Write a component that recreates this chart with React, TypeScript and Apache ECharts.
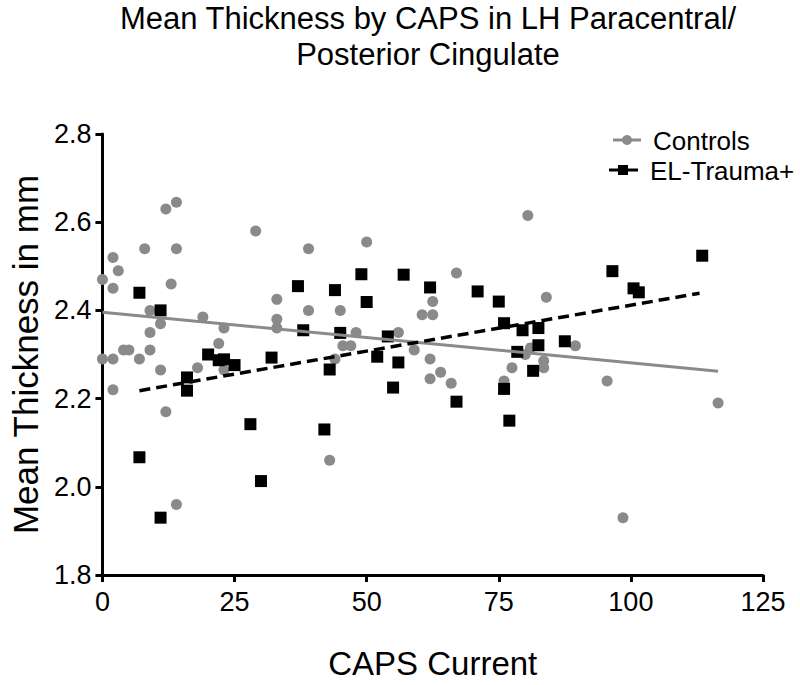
import React, { useEffect, useRef } from "react";
import * as echarts from "echarts";

const chartTitleLines = ["Mean Thickness by CAPS in LH Paracentral/", "Posterior Cingulate"];
const xAxisName = "CAPS Current";
const yAxisName = "Mean Thickness in mm";
const seriesNames = ["Controls", "EL-Trauma+"];

const xTicks = [0, 25, 50, 75, 100, 125];
const yTicks = [1.8, 2.0, 2.2, 2.4, 2.6, 2.8];

const controlsPoints: [number, number][] = [
  [0, 2.47], [0, 2.29], [2, 2.52], [2, 2.45], [2, 2.29], [2, 2.22], [3, 2.49], [4, 2.31],
  [5, 2.31], [7, 2.29], [8, 2.54], [9, 2.4], [9, 2.35], [9, 2.31], [11, 2.37], [11, 2.265],
  [12, 2.63], [12, 2.17], [13, 2.46], [14, 2.645], [14, 2.54], [14, 1.96], [18, 2.27], [19, 2.385],
  [22, 2.325], [23, 2.36], [23, 2.265], [29, 2.58], [33, 2.425], [33, 2.38], [33, 2.36], [39, 2.54],
  [39, 2.4], [43, 2.06], [44, 2.29], [45, 2.4], [45.5, 2.32], [47, 2.32], [48, 2.35], [50, 2.555],
  [56, 2.35], [59, 2.31], [60.5, 2.39], [62.5, 2.39], [62.5, 2.42], [62, 2.29], [62, 2.245], [64, 2.26],
  [66, 2.235], [67, 2.485], [76, 2.24], [77.5, 2.27], [80, 2.3], [81, 2.315], [80.5, 2.615], [84, 2.43],
  [83.5, 2.285], [83.5, 2.27], [89.5, 2.32], [95.5, 2.24], [98.5, 1.93], [116.5, 2.19],
];

const traumaPoints: [number, number][] = [
  [7, 2.44], [7, 2.067], [11, 2.4], [11, 1.93], [16, 2.248], [16, 2.218], [20, 2.3], [22, 2.287],
  [23, 2.289], [25, 2.276], [28, 2.142], [30, 2.013], [32, 2.293], [37, 2.455], [38, 2.355], [42, 2.13],
  [43, 2.266], [44, 2.446], [45, 2.349], [49, 2.482], [50, 2.419], [52, 2.295], [54, 2.341], [55, 2.225],
  [56, 2.282], [57, 2.481], [62, 2.452], [67, 2.193], [71, 2.443], [75, 2.42], [76, 2.371], [76, 2.222],
  [77, 2.15], [78.5, 2.306], [79.5, 2.355], [81.5, 2.263], [82.5, 2.36], [82.5, 2.321], [87.5, 2.33],
  [96.5, 2.489], [100.5, 2.45], [101.5, 2.441], [113.5, 2.524],
];

const controlsFit: [number, number][] = [[0, 2.396], [116.5, 2.262]];
const traumaFit: [number, number][] = [[7, 2.218], [113, 2.439]];

const GREY = "#8a8a8a";
const BLACK = "#000000";
const FONT = "Liberation Sans";

export default function App() {
  const ref = useRef<HTMLDivElement>(null);
  useEffect(() => {
    if (!ref.current) return;
    const chart = echarts.init(ref.current, null, { renderer: "svg" });
    chart.setOption({
      animation: false,
      backgroundColor: "#ffffff",
      textStyle: { fontFamily: FONT },
      grid: { left: 94, right: 37, top: 134, bottom: 107, containLabel: false },
      xAxis: {
        type: "value",
        min: xTicks[0],
        max: xTicks[xTicks.length - 1],
        interval: 25,
        name: xAxisName,
        nameLocation: "middle",
        nameGap: 72,
        nameTextStyle: { fontSize: 33, color: BLACK, fontFamily: FONT },
        axisLine: { show: true, lineStyle: { color: BLACK, width: 3 } },
        axisTick: { show: true, length: 7, lineStyle: { color: BLACK, width: 3 } },
        axisLabel: { fontSize: 27, color: BLACK, margin: 13, fontFamily: FONT },
        splitLine: { show: false },
      },
      yAxis: {
        type: "value",
        min: yTicks[0],
        max: yTicks[yTicks.length - 1],
        interval: 0.2,
        name: yAxisName,
        nameLocation: "middle",
        nameGap: 58,
        nameTextStyle: { fontSize: 35, color: BLACK, fontFamily: FONT },
        axisLine: { show: true, lineStyle: { color: BLACK, width: 3 } },
        axisTick: { show: true, length: 7, lineStyle: { color: BLACK, width: 3 } },
        axisLabel: {
          fontSize: 27,
          color: BLACK,
          margin: 11,
          fontFamily: FONT,
          formatter: (v: number) => v.toFixed(1),
        },
        splitLine: { show: false },
      },
      graphic: [
        {
          type: "text",
          x: 428,
          y: 18,
          style: {
            text: chartTitleLines[0],
            fontSize: 31,
            fill: BLACK,
            fontFamily: FONT,
            align: "center",
            verticalAlign: "middle",
          },
        },
        {
          type: "text",
          x: 428,
          y: 54,
          style: {
            text: chartTitleLines[1],
            fontSize: 31,
            fill: BLACK,
            fontFamily: FONT,
            align: "center",
            verticalAlign: "middle",
          },
        },
        { type: "line", shape: { x1: 613, y1: 140, x2: 641, y2: 140 }, style: { stroke: GREY, lineWidth: 3 } },
        { type: "circle", shape: { cx: 627, cy: 140, r: 5 }, style: { fill: GREY } },
        {
          type: "text",
          x: 653,
          y: 141,
          style: { text: seriesNames[0], fontSize: 26, fill: BLACK, fontFamily: FONT, verticalAlign: "middle" },
        },
        { type: "line", shape: { x1: 609, y1: 170, x2: 638, y2: 170 }, style: { stroke: BLACK, lineWidth: 3 } },
        { type: "rect", shape: { x: 618, y: 165, width: 10, height: 10 }, style: { fill: BLACK } },
        {
          type: "text",
          x: 650,
          y: 171,
          style: { text: seriesNames[1], fontSize: 26, fill: BLACK, fontFamily: FONT, verticalAlign: "middle" },
        },
      ],
      series: [
        {
          name: seriesNames[0],
          type: "scatter",
          data: controlsPoints,
          symbol: "circle",
          symbolSize: 11,
          itemStyle: { color: GREY, opacity: 1 },
        },
        {
          name: seriesNames[1],
          type: "scatter",
          data: traumaPoints,
          symbol: "rect",
          symbolSize: 12,
          itemStyle: { color: BLACK, opacity: 1 },
        },
        {
          name: seriesNames[0] + " fit",
          type: "line",
          data: controlsFit,
          showSymbol: false,
          symbol: "none",
          lineStyle: { color: GREY, width: 3, type: "solid" },
        },
        {
          name: seriesNames[1] + " fit",
          type: "line",
          data: traumaFit,
          showSymbol: false,
          symbol: "none",
          lineStyle: { color: BLACK, width: 3.5, type: [11, 6] },
        },
      ],
    });
    return () => chart.dispose();
  }, []);
  return <div ref={ref} style={{ position: "fixed", left: 0, top: 0, width: 800, height: 685 }} />;
}
